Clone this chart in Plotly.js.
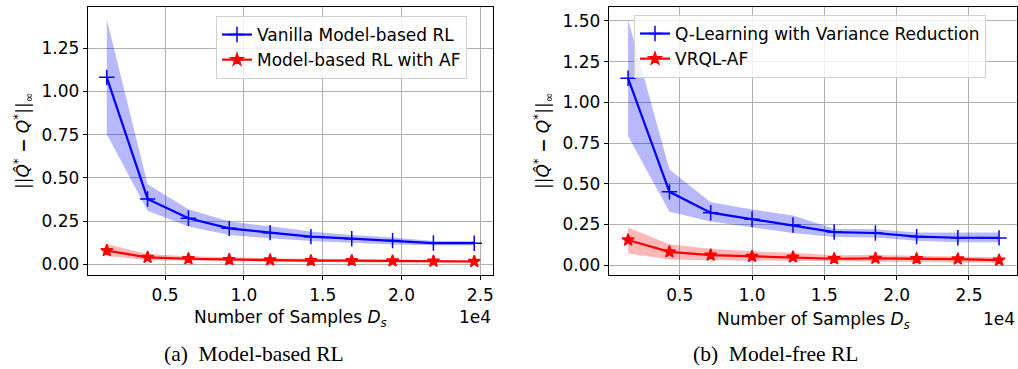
<!DOCTYPE html>
<html><head><meta charset="utf-8">
<script src="https://cdn.plot.ly/plotly-3.0.1.min.js"></script>
<style>html,body{margin:0;padding:0;background:#fff}#c{width:1018px;height:369px}</style>
</head><body><div id="c"></div>
<script>
// Panel (a): Model-based RL
const samplesA = [1300, 3890, 6480, 9070, 11660, 14250, 16840, 19430, 22020, 24610];
const vanilla   = [1.082, 0.378, 0.266, 0.208, 0.183, 0.160, 0.148, 0.137, 0.123, 0.122];
const vanillaLo = [0.752, 0.310, 0.218, 0.170, 0.150, 0.135, 0.125, 0.115, 0.110, 0.110];
const vanillaHi = [1.418, 0.463, 0.318, 0.247, 0.220, 0.190, 0.170, 0.155, 0.135, 0.135];
const mbAF   = [0.079, 0.040, 0.032, 0.027, 0.025, 0.021, 0.021, 0.019, 0.018, 0.016];
const mbAFLo = [0.048, 0.025, 0.020, 0.017, 0.015, 0.012, 0.012, 0.010, 0.010, 0.009];
const mbAFHi = [0.117, 0.060, 0.046, 0.039, 0.036, 0.031, 0.030, 0.028, 0.027, 0.024];

// Panel (b): Model-free RL
const samplesB = [1430, 4290, 7140, 10000, 12830, 15680, 18530, 21380, 24230, 27080];
const vrql   = [1.148, 0.450, 0.322, 0.282, 0.246, 0.203, 0.197, 0.175, 0.168, 0.167];
const vrqlLo = [0.791, 0.328, 0.268, 0.231, 0.197, 0.173, 0.170, 0.150, 0.140, 0.140];
const vrqlHi = [1.507, 0.588, 0.386, 0.341, 0.304, 0.223, 0.220, 0.200, 0.200, 0.200];
const vrqlAF   = [0.154, 0.081, 0.061, 0.053, 0.049, 0.039, 0.041, 0.039, 0.037, 0.030];
const vrqlAFLo = [0.071, 0.035, 0.030, 0.028, 0.025, 0.020, 0.022, 0.020, 0.018, 0.015];
const vrqlAFHi = [0.231, 0.128, 0.100, 0.085, 0.075, 0.060, 0.062, 0.058, 0.055, 0.048];

const namesA = ["Vanilla Model-based RL", "Model-based RL with AF"];
const namesB = ["Q-Learning with Variance Reduction", "VRQL-AF"];
const xTickVals = [5000, 10000, 15000, 20000, 25000];
const xTickText = ["0.5", "1.0", "1.5", "2.0", "2.5"];
const captions = ["(a)&nbsp; Model-based RL", "(b)&nbsp; Model-free RL"];

const FONT = "DejaVu Sans";
function band(x, lo, hi, fill, xa, ya) {
  return [
    {x: x, y: lo, xaxis: xa, yaxis: ya, mode: "lines", line: {width: 0}, showlegend: false, hoverinfo: "skip"},
    {x: x, y: hi, xaxis: xa, yaxis: ya, mode: "lines", line: {width: 0}, fill: "tonexty", fillcolor: fill, showlegend: false, hoverinfo: "skip"}
  ];
}
function line(x, y, name, color, symbol, size, xa, ya, leg) {
  return {x: x, y: y, xaxis: xa, yaxis: ya, name: name, legend: leg, mode: "lines+markers",
    line: {color: color, width: 2.2},
    marker: {symbol: symbol, size: size, color: color, line: {color: color, width: 1.5}}};
}
const BLUEF = "rgba(0,0,255,0.28)", REDF = "rgba(255,0,0,0.28)";
const traces = [].concat(
  band(samplesA, vanillaLo, vanillaHi, BLUEF, "x", "y"),
  band(samplesA, mbAFLo, mbAFHi, REDF, "x", "y"),
  band(samplesB, vrqlLo, vrqlHi, BLUEF, "x2", "y2"),
  band(samplesB, vrqlAFLo, vrqlAFHi, REDF, "x2", "y2"),
  [
    line(samplesA, vanilla, namesA[0], "#0000ff", "cross-thin-open", 11, "x", "y", "legend"),
    line(samplesA, mbAF, namesA[1], "#ff0000", "star", 9, "x", "y", "legend"),
    line(samplesB, vrql, namesB[0], "#0000ff", "cross-thin-open", 11, "x2", "y2", "legend2"),
    line(samplesB, vrqlAF, namesB[1], "#ff0000", "star", 9, "x2", "y2", "legend2")
  ]
);

const W = 1018, H = 369;
const ydom = [(H - 275) / H, (H - 7) / H];
function xax(dom, rng, anchor) {
  return {domain: dom, range: rng, anchor: anchor, tickvals: xTickVals, ticktext: xTickText,
    showline: true, mirror: true, linecolor: "#000", linewidth: 1.2, ticks: "outside", ticklen: 4, tickcolor: "#000",
    showgrid: true, gridcolor: "#b0b0b0", gridwidth: 1, zeroline: false, automargin: false,
    tickfont: {family: FONT, size: 17, color: "#000"}};
}
function yax(dom, rng, anchor, tv) {
  return {domain: dom, range: rng, anchor: anchor, tickvals: tv, ticktext: tv.map(v => v.toFixed(2)),
    showline: true, mirror: true, linecolor: "#000", linewidth: 1.2, ticks: "outside", ticklen: 4, tickcolor: "#000",
    showgrid: true, gridcolor: "#b0b0b0", gridwidth: 1, zeroline: false, automargin: false,
    tickfont: {family: FONT, size: 17, color: "#000"}};
}
const ytitle = "||<i>Q&#770;</i><sup>*</sup> <b>−</b> <i>Q</i><sup>*</sup>||<sub>∞</sub>";
const legStyle = {bgcolor: "rgba(255,255,255,0.8)", bordercolor: "#d0d0d0", borderwidth: 1, traceorder: "normal",
  font: {family: FONT, size: 17, color: "#000"}, xanchor: "left", yanchor: "top", tracegroupgap: 0};

const layout = {
  width: W, height: H, margin: {l: 0, r: 0, t: 0, b: 0}, paper_bgcolor: "#fff", plot_bgcolor: "#fff",
  font: {family: FONT, color: "#000"}, showlegend: true,
  xaxis: xax([88 / W, 493 / W], [110, 25800], "y"),
  yaxis: yax(ydom, [-0.062, 1.489], "x", [0, 0.25, 0.5, 0.75, 1.0, 1.25]),
  xaxis2: xax([609 / W, 1017 / W], [110, 28320], "y2"),
  yaxis2: yax(ydom, [-0.061, 1.586], "x2", [0, 0.25, 0.5, 0.75, 1.0, 1.25, 1.5]),
  legend: Object.assign({x: 216 / W, y: 1 - 16 / H}, legStyle),
  legend2: Object.assign({x: 634 / W, y: 1 - 15 / H}, legStyle),
  annotations: [
    {xref: "paper", yref: "paper", x: 290 / W, y: 1 - 318 / H, text: "Number of Samples <i>D<sub>s</sub></i>", showarrow: false, font: {family: FONT, size: 17}, xanchor: "center", yanchor: "middle"},
    {xref: "paper", yref: "paper", x: 813 / W, y: 1 - 320 / H, text: "Number of Samples <i>D<sub>s</sub></i>", showarrow: false, font: {family: FONT, size: 17}, xanchor: "center", yanchor: "middle"},
    {xref: "paper", yref: "paper", x: 493 / W, y: 1 - 317 / H, text: "1e4", showarrow: false, font: {family: FONT, size: 17}, xanchor: "right", yanchor: "middle"},
    {xref: "paper", yref: "paper", x: 1017 / W, y: 1 - 319 / H, text: "1e4", showarrow: false, font: {family: FONT, size: 17}, xanchor: "right", yanchor: "middle"},
    {xref: "paper", yref: "paper", x: 23 / W, y: 1 - 141 / H, text: ytitle, textangle: -90, showarrow: false, font: {family: FONT, size: 17}, xanchor: "center", yanchor: "middle"},
    {xref: "paper", yref: "paper", x: 543 / W, y: 1 - 141 / H, text: ytitle, textangle: -90, showarrow: false, font: {family: FONT, size: 17}, xanchor: "center", yanchor: "middle"},
    {xref: "paper", yref: "paper", x: 254 / W, y: 1 - 354 / H, text: captions[0], showarrow: false, borderpad: 0, font: {family: "Liberation Serif", size: 21.5}, xanchor: "center", yanchor: "middle"},
    {xref: "paper", yref: "paper", x: 775.5 / W, y: 1 - 354 / H, text: captions[1], showarrow: false, borderpad: 0, font: {family: "Liberation Serif", size: 21.5}, xanchor: "center", yanchor: "middle"}
  ]
};
Plotly.newPlot("c", traces, layout, {staticPlot: true, displayModeBar: false});
</script></body></html>
